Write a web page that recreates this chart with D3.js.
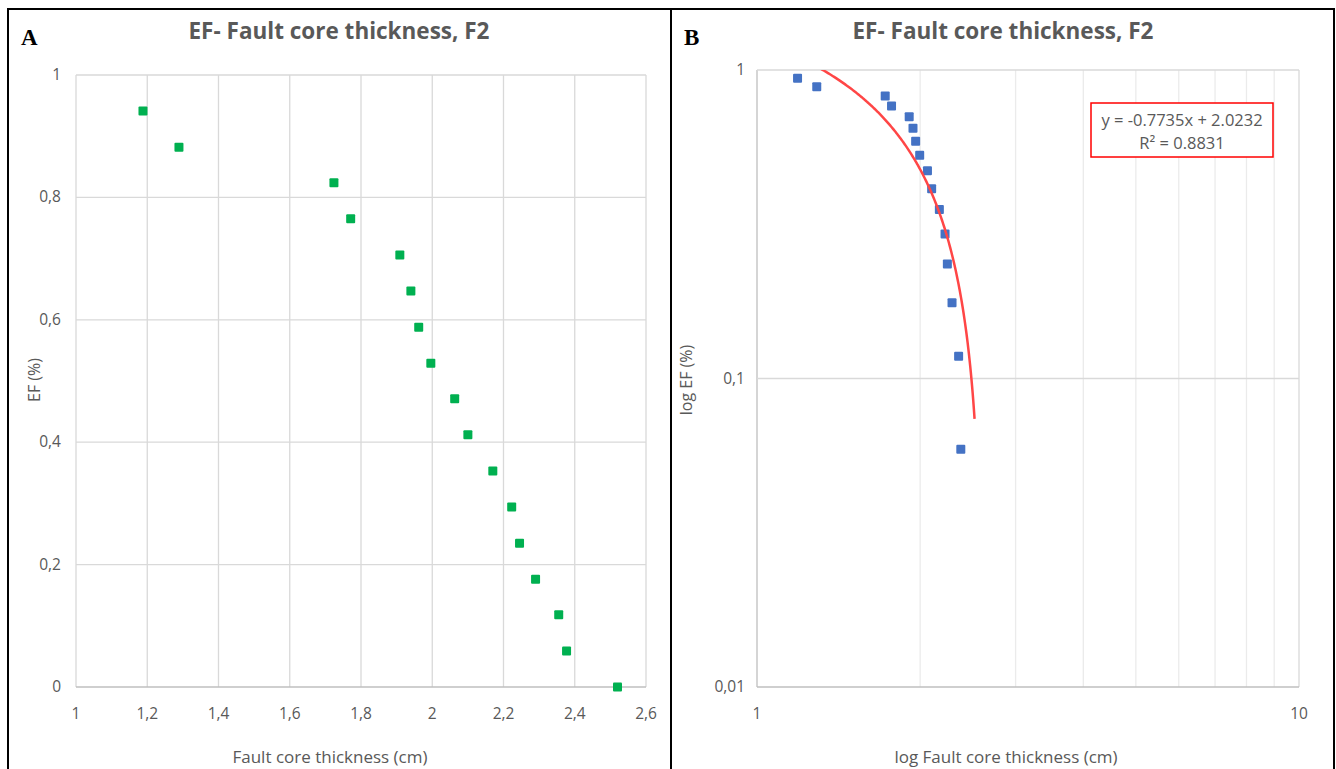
<!DOCTYPE html>
<html>
<head>
<meta charset="utf-8">
<script src="https://cdn.jsdelivr.net/npm/d3@7"></script>
<style>
  body { margin: 0; background: #fff; }
  svg { display: block; }
  text { font-family: "Open Sans", Lato, sans-serif; }
</style>
</head>
<body>
<svg id="chart" width="1336" height="769"></svg>
<script>
// Fault core thickness (cm) and exceedance frequency
const thickness = [1.188, 1.289, 1.724, 1.771, 1.909, 1.940, 1.962, 1.996, 2.063, 2.100, 2.170, 2.223, 2.245, 2.290, 2.355, 2.377, 2.520];
const ef = [0.941, 0.882, 0.824, 0.765, 0.706, 0.647, 0.588, 0.529, 0.471, 0.412, 0.353, 0.294, 0.235, 0.176, 0.118, 0.059, 0];

const linTicksX = [1, 1.2, 1.4, 1.6, 1.8, 2, 2.2, 2.4, 2.6];
const linTicksY = [0, 0.2, 0.4, 0.6, 0.8, 1];
const logTicksX = [1, 10];
const logTicksY = [0.01, 0.1, 1];
const logMinorX = [2, 3, 4, 5, 6, 7, 8, 9];

// Excel linear trendline shown on the log chart
const trendSlope = -0.7735;
const trendIntercept = 2.0232;
const trendR2 = 0.8831;

const title = "EF- Fault core thickness, F2";
const grey = "#595959";
const gridColor = "#d9d9d9";
const comma = d => String(+d.toFixed(2)).replace(".", ",");

const svg = d3.select("#chart");
const points = thickness.map((x, i) => ({ x, y: ef[i] }));

// panel frames
svg.append("rect").attr("x", 8).attr("y", 9).attr("width", 663).attr("height", 770)
    .attr("fill", "none").attr("stroke", "#000").attr("stroke-width", 2);
svg.append("rect").attr("x", 671).attr("y", 9).attr("width", 663).attr("height", 770)
    .attr("fill", "none").attr("stroke", "#000").attr("stroke-width", 2);

function panelText(g, letter, cx, axisX, axisY, yLabelX, xLabelCx) {
    g.append("text").attr("x", letter.x).attr("y", 45)
        .style("font-family", "'Liberation Serif', 'DejaVu Serif', serif")
        .style("font-weight", "bold").style("font-size", "23px").attr("fill", "#000")
        .text(letter.t);
    g.append("text").attr("x", cx).attr("y", 39).attr("text-anchor", "middle")
        .style("font-weight", "bold").style("font-size", "22.5px").attr("fill", grey)
        .text(title);
    g.append("text").attr("transform", `translate(${yLabelX},380) rotate(-90)`)
        .attr("text-anchor", "middle").style("font-size", "16px").attr("fill", grey)
        .text(axisY);
    g.append("text").attr("x", xLabelCx).attr("y", 763).attr("text-anchor", "middle")
        .style("font-size", "17px").attr("fill", grey).text(axisX);
}

// ---- Panel A: linear scatter
{
    const x = d3.scaleLinear().domain([1, 2.6]).range([76, 646]);
    const y = d3.scaleLinear().domain([0, 1]).range([687, 75]);
    const g = svg.append("g");

    g.selectAll(".vg").data(linTicksX).enter().append("line")
        .attr("x1", d => x(d)).attr("x2", d => x(d)).attr("y1", y(1)).attr("y2", y(0))
        .attr("stroke", gridColor).attr("stroke-width", 1.3);
    g.selectAll(".hg").data(linTicksY).enter().append("line")
        .attr("x1", x(1)).attr("x2", x(2.6)).attr("y1", d => y(d)).attr("y2", d => y(d))
        .attr("stroke", d => d === 0 ? "#bfbfbf" : gridColor).attr("stroke-width", 1.3);

    g.selectAll(".xt").data(linTicksX).enter().append("text")
        .attr("x", d => x(d)).attr("y", 719).attr("text-anchor", "middle")
        .style("font-size", "15.5px").attr("fill", grey).text(comma);
    g.selectAll(".yt").data(linTicksY).enter().append("text")
        .attr("x", 61).attr("y", d => y(d) + 5).attr("text-anchor", "end")
        .style("font-size", "15.5px").attr("fill", grey).text(comma);

    g.selectAll(".pt").data(points).enter().append("rect")
        .attr("x", d => x(d.x) - 4.5).attr("y", d => y(d.y) - 4.5)
        .attr("width", 9).attr("height", 9).attr("rx", 1)
        .attr("fill", "#00b050");

    panelText(g, { x: 21, t: "A" }, 339, "Fault core thickness (cm)", "EF (%)", 40, 330);
}

// ---- Panel B: log-log scatter with linear trendline
{
    const x = d3.scaleLog().domain([1, 10]).range([757, 1299]);
    const y = d3.scaleLog().domain([0.01, 1]).range([687, 70]);
    const g = svg.append("g");

    g.selectAll(".mg").data(logMinorX).enter().append("line")
        .attr("x1", d => x(d)).attr("x2", d => x(d)).attr("y1", y(1)).attr("y2", y(0.01))
        .attr("stroke", "#ebebeb").attr("stroke-width", 1.3);
    g.selectAll(".vg").data(logTicksX).enter().append("line")
        .attr("x1", d => x(d)).attr("x2", d => x(d)).attr("y1", y(1)).attr("y2", y(0.01))
        .attr("stroke", d => d === 1 ? "#bfbfbf" : gridColor).attr("stroke-width", 1.3);
    g.selectAll(".hg").data(logTicksY).enter().append("line")
        .attr("x1", x(1)).attr("x2", x(10)).attr("y1", d => y(d)).attr("y2", d => y(d))
        .attr("stroke", d => d === 0.01 ? "#bfbfbf" : gridColor).attr("stroke-width", 1.3);

    g.selectAll(".xt").data(logTicksX).enter().append("text")
        .attr("x", d => x(d)).attr("y", 719).attr("text-anchor", "middle")
        .style("font-size", "15.5px").attr("fill", grey).text(comma);
    g.selectAll(".yt").data(logTicksY).enter().append("text")
        .attr("x", 745).attr("y", d => y(d) + 5).attr("text-anchor", "end")
        .style("font-size", "15.5px").attr("fill", grey).text(comma);

    g.selectAll(".pt").data(points.filter(d => d.y > 0)).enter().append("rect")
        .attr("x", d => x(d.x) - 4.5).attr("y", d => y(d.y) - 4.5)
        .attr("width", 9).attr("height", 9).attr("rx", 1)
        .attr("fill", "#4472c4");

    // trendline y = a*x + b over the data range, clipped to the plot area
    svg.append("clipPath").attr("id", "clipB").append("rect")
        .attr("x", 757).attr("y", 70).attr("width", 542).attr("height", 617);
    const [x0, x1] = d3.extent(thickness);
    const trend = d3.range(0, 201).map(i => {
        const xv = x0 + (x1 - x0) * i / 200;
        return [xv, trendSlope * xv + trendIntercept];
    });
    g.append("path").datum(trend)
        .attr("clip-path", "url(#clipB)")
        .attr("d", d3.line().x(d => x(d[0])).y(d => y(d[1])))
        .attr("fill", "none").attr("stroke", "#ff4646").attr("stroke-width", 2.5);

    // equation box
    g.append("rect").attr("x", 1091).attr("y", 103).attr("width", 182).attr("height", 54)
        .attr("fill", "#fff").attr("stroke", "#ff0000").attr("stroke-width", 1.5);
    g.append("text").attr("x", 1182).attr("y", 126).attr("text-anchor", "middle")
        .style("font-size", "16.5px").attr("fill", grey)
        .text(`y = ${trendSlope}x + ${trendIntercept}`);
    g.append("text").attr("x", 1182).attr("y", 149).attr("text-anchor", "middle")
        .style("font-size", "16.5px").attr("fill", grey)
        .text(`R² = ${trendR2}`);

    panelText(g, { x: 684, t: "B" }, 1003, "log Fault core thickness (cm)", "log EF (%)", 692, 1006);
}
</script>
</body>
</html>
